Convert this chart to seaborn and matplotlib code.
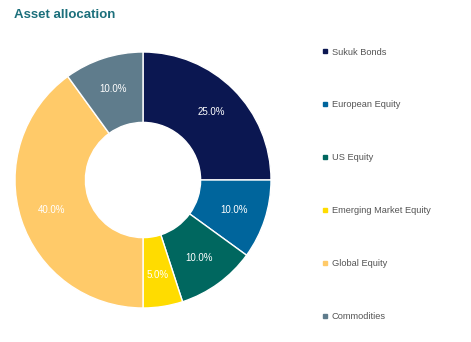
import matplotlib
matplotlib.use("Agg")
import matplotlib.pyplot as plt
from matplotlib.lines import Line2D
import seaborn as sns

categories = ["Sukuk Bonds", "European Equity", "US Equity",
              "Emerging Market Equity", "Global Equity", "Commodities"]
weights = [25.0, 10.0, 10.0, 5.0, 40.0, 10.0]
colors = ["#0b1751", "#00659c", "#00675f", "#ffdc00", "#ffca69", "#5f7c8c"]

sns.set_theme(style="white")
plt.rcParams["font.family"] = ["Liberation Sans", "DejaVu Sans"]

fig = plt.figure(figsize=(4.71, 3.42), dpi=100)
ax = fig.add_axes([15 / 471, 34 / 342, 256 / 471, 256 / 342])

wedges, texts, autotexts = ax.pie(
    weights, colors=colors, startangle=90, counterclock=False,
    autopct="%.1f%%", pctdistance=0.75,
    wedgeprops=dict(width=0.55, edgecolor="white", linewidth=1),
    textprops=dict(color="white", fontsize=7),
)
ax.set_aspect("equal")
ax.set_xlim(-1.0, 1.0)
ax.set_ylim(-1.0, 1.0)

fig.text(14 / 471, 1 - 15 / 342, "Asset allocation", color="#1b6f7b",
         fontsize=9.5, fontweight="bold", va="center", ha="left")

handles = [Line2D([], [], marker="s", linestyle="none", markersize=3.5,
                  markerfacecolor=c, markeredgecolor=c) for c in colors]
leg = fig.legend(handles, categories, loc="upper left",
                 bbox_to_anchor=(318 / 471, 1 - 43 / 342), frameon=False,
                 fontsize=6.7, handlelength=0.6, handletextpad=0.4,
                 labelspacing=4.71, borderpad=0)
for t in leg.get_texts():
    t.set_color("#555555")

fig.savefig("out.png", dpi=100, facecolor="white")
